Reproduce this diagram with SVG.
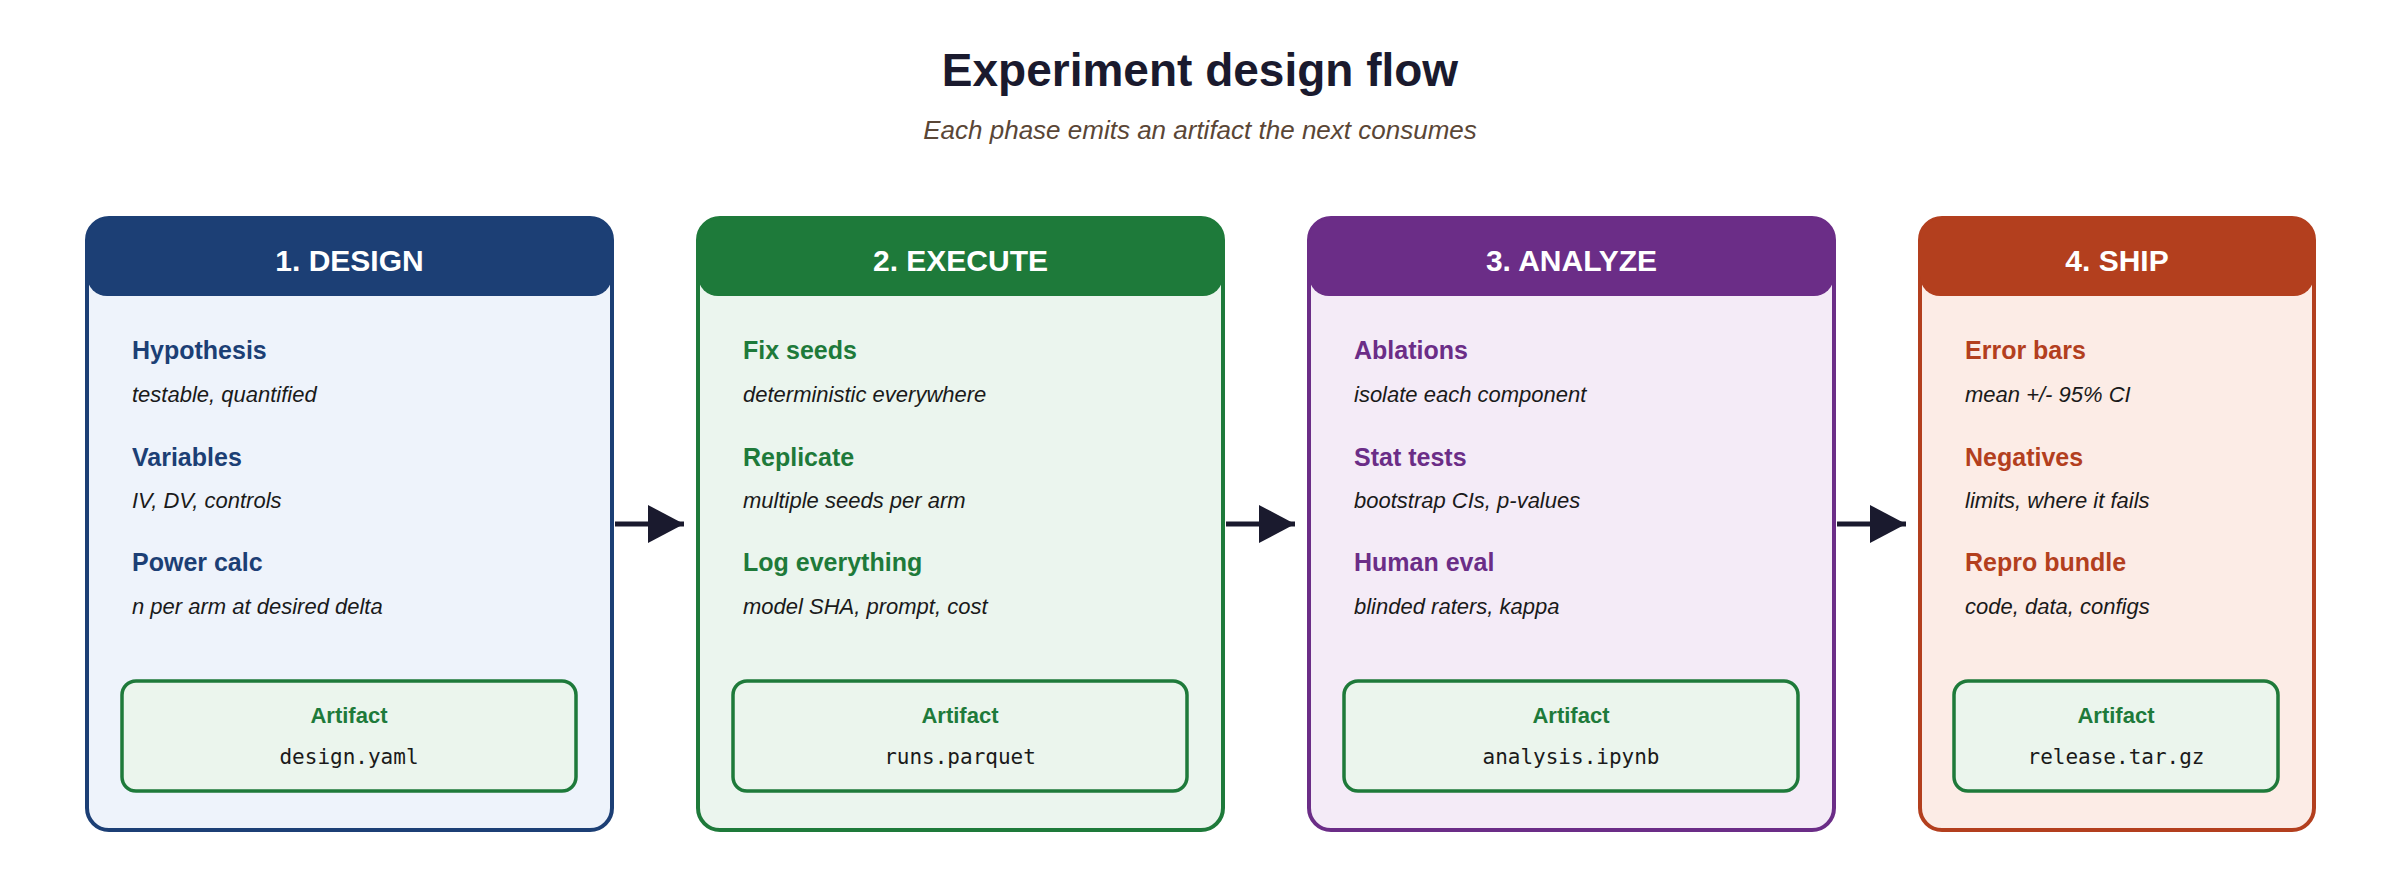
<svg xmlns="http://www.w3.org/2000/svg" width="2400" height="872" viewBox="0 0 2400 872">
<style>
.t{font-family:"Liberation Sans",Arial,sans-serif;font-weight:bold;font-size:46px;fill:#1a1a2e}
.st{font-family:"Liberation Sans",Arial,sans-serif;font-style:italic;font-size:26px;fill:#5a4636}
.h{font-family:"Liberation Sans",Arial,sans-serif;font-weight:bold;font-size:30px;fill:#fff}
.it{font-family:"Liberation Sans",Arial,sans-serif;font-weight:bold;font-size:25px}
.sb{font-family:"Liberation Sans",Arial,sans-serif;font-style:italic;font-size:22px;fill:#1a1a1a}
.af{font-family:"Liberation Sans",Arial,sans-serif;font-weight:bold;font-size:22px;fill:#1e7a3a}
.mono{font-family:"DejaVu Sans Mono","Liberation Mono",monospace;font-size:21px;fill:#1a1a1a}
.abox{fill:#ebf5ed;stroke:#1e7a3a;stroke-width:3.5}
.conn{stroke:#1a1a2e;stroke-width:5;fill:none}
</style>
<defs><marker id="ah" markerWidth="10" markerHeight="10" refX="9" refY="5" orient="auto" markerUnits="userSpaceOnUse" viewBox="0 0 10 10"><path d="M0,0 L10,5 L0,10 z" fill="#1a1a2e"/></marker>
<marker id="a" viewBox="0 0 36 38" refX="36" refY="19" markerWidth="36" markerHeight="38" markerUnits="userSpaceOnUse" orient="auto"><path d="M0,0 L36,19 L0,38 z" fill="#1a1a2e"/></marker></defs>
<rect width="2400" height="872" fill="#fff"/>
<text class="t" x="1200" y="86" text-anchor="middle">Experiment design flow</text>
<text class="st" x="1200" y="139" text-anchor="middle">Each phase emits an artifact the next consumes</text>

<g id="design">
<rect x="87" y="218" width="525" height="612" rx="22" fill="#eef3fb" stroke="#1c3f75" stroke-width="4"/>
<path d="M87,240 a22,22 0 0 1 22,-22 h481 a22,22 0 0 1 22,22 v36 a20,20 0 0 1 -20,20 h-485 a20,20 0 0 1 -20,-20 z" fill="#1c3f75"/>
<text class="h" x="349.500" y="271" text-anchor="middle">1. DESIGN</text>
<g class="it" fill="#1c3f75"><text x="132" y="359">Hypothesis</text><text x="132" y="466">Variables</text><text x="132" y="571">Power calc</text></g>
<text class="sb" x="132" y="402">testable, quantified</text><text class="sb" x="132" y="508">IV, DV, controls</text><text class="sb" x="132" y="614">n per arm at desired delta</text>
<rect class="abox" x="122" y="681" width="454" height="110" rx="14"/>
<text class="af" x="349" y="723" text-anchor="middle">Artifact</text><text class="mono" x="349" y="764" text-anchor="middle">design.yaml</text>
</g>

<g id="execute">
<rect x="698" y="218" width="525" height="612" rx="22" fill="#ebf5ee" stroke="#1e7a3a" stroke-width="4"/>
<path d="M698,240 a22,22 0 0 1 22,-22 h481 a22,22 0 0 1 22,22 v36 a20,20 0 0 1 -20,20 h-485 a20,20 0 0 1 -20,-20 z" fill="#1e7a3a"/>
<text class="h" x="960.500" y="271" text-anchor="middle">2. EXECUTE</text>
<g class="it" fill="#1e7a3a"><text x="743" y="359">Fix seeds</text><text x="743" y="466">Replicate</text><text x="743" y="571">Log everything</text></g>
<text class="sb" x="743" y="402">deterministic everywhere</text><text class="sb" x="743" y="508">multiple seeds per arm</text><text class="sb" x="743" y="614">model SHA, prompt, cost</text>
<rect class="abox" x="733" y="681" width="454" height="110" rx="14"/>
<text class="af" x="960" y="723" text-anchor="middle">Artifact</text><text class="mono" x="960" y="764" text-anchor="middle">runs.parquet</text>
</g>

<g id="analyze">
<rect x="1309" y="218" width="525" height="612" rx="22" fill="#f4ebf7" stroke="#6b2d87" stroke-width="4"/>
<path d="M1309,240 a22,22 0 0 1 22,-22 h481 a22,22 0 0 1 22,22 v36 a20,20 0 0 1 -20,20 h-485 a20,20 0 0 1 -20,-20 z" fill="#6b2d87"/>
<text class="h" x="1571.500" y="271" text-anchor="middle">3. ANALYZE</text>
<g class="it" fill="#6b2d87"><text x="1354" y="359">Ablations</text><text x="1354" y="466">Stat tests</text><text x="1354" y="571">Human eval</text></g>
<text class="sb" x="1354" y="402">isolate each component</text><text class="sb" x="1354" y="508">bootstrap CIs, p-values</text><text class="sb" x="1354" y="614">blinded raters, kappa</text>
<rect class="abox" x="1344" y="681" width="454" height="110" rx="14"/>
<text class="af" x="1571" y="723" text-anchor="middle">Artifact</text><text class="mono" x="1571" y="764" text-anchor="middle">analysis.ipynb</text>
</g>

<g id="ship">
<rect x="1920" y="218" width="394" height="612" rx="22" fill="#fcece6" stroke="#b33f1e" stroke-width="4"/>
<path d="M1920,240 a22,22 0 0 1 22,-22 h350 a22,22 0 0 1 22,22 v36 a20,20 0 0 1 -20,20 h-354 a20,20 0 0 1 -20,-20 z" fill="#b33f1e"/>
<text class="h" x="2117" y="271" text-anchor="middle">4. SHIP</text>
<g class="it" fill="#b33f1e"><text x="1965" y="359">Error bars</text><text x="1965" y="466">Negatives</text><text x="1965" y="571">Repro bundle</text></g>
<text class="sb" x="1965" y="402">mean +/- 95% CI</text><text class="sb" x="1965" y="508">limits, where it fails</text><text class="sb" x="1965" y="614">code, data, configs</text>
<rect class="abox" x="1954" y="681" width="324" height="110" rx="14"/>
<text class="af" x="2116" y="723" text-anchor="middle">Artifact</text><text class="mono" x="2116" y="764" text-anchor="middle">release.tar.gz</text>
</g>

<g id="connectors">
<line class="conn" x1="615" y1="524" x2="684" y2="524" marker-end="url(#a)"/>
<line class="conn" x1="1226" y1="524" x2="1295" y2="524" marker-end="url(#a)"/>
<line class="conn" x1="1837" y1="524" x2="1906" y2="524" marker-end="url(#a)"/>
</g>
</svg>
